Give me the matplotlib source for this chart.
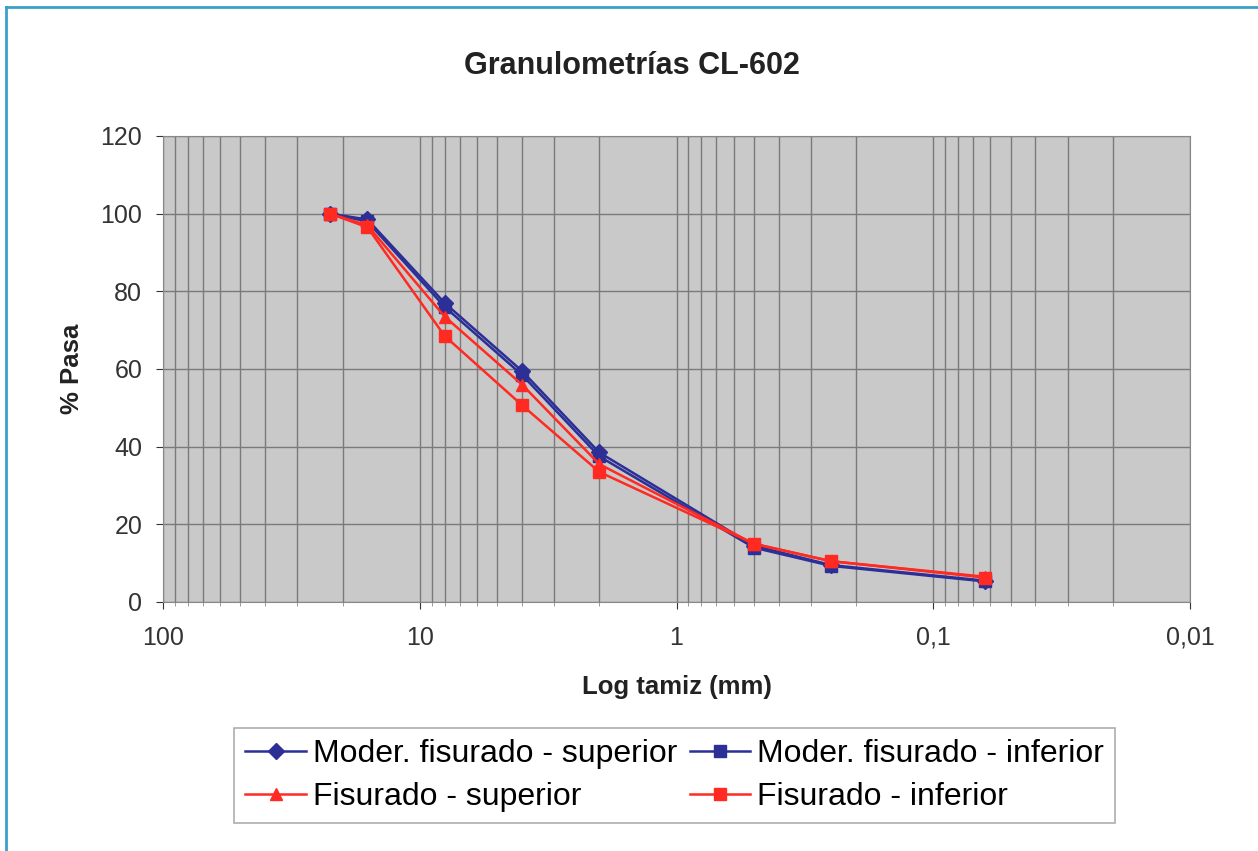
import matplotlib.pyplot as plt
from matplotlib.ticker import FixedLocator, LogLocator, NullFormatter

plt.rcParams['font.family'] = ['Liberation Sans', 'DejaVu Sans']

# tamices (mm) y % que pasa
tamiz = [22.4, 16, 8, 4, 2, 0.5, 0.25, 0.063]
moder_sup = [100, 98.5, 77.0, 59.5, 38.5, 14.5, 9.5, 5.5]
moder_inf = [100, 98.0, 76.0, 58.5, 37.5, 14.0, 9.3, 5.3]
fis_sup = [100, 97.0, 73.5, 56.0, 35.5, 15.0, 10.5, 6.5]
fis_inf = [100, 96.5, 68.5, 50.7, 33.5, 15.0, 10.5, 6.3]

azul = '#2b2f96'
rojo = '#ff2a22'

fig = plt.figure(figsize=(12.58, 8.51), dpi=100)
ax = fig.add_axes([0.1296, 0.2926, 0.8164, 0.5476])
ax.set_facecolor('#c9c9c9')

l1, = ax.plot(tamiz, moder_sup, color=azul, lw=1.8, marker='D', ms=8, label='Moder. fisurado - superior', zorder=3)
l2, = ax.plot(tamiz, moder_inf, color=azul, lw=1.8, marker='s', ms=9, label='Moder. fisurado - inferior', zorder=3)
l3, = ax.plot(tamiz, fis_sup, color=rojo, lw=1.8, marker='^', ms=9, label='Fisurado - superior', zorder=4)
l4, = ax.plot(tamiz, fis_inf, color=rojo, lw=1.8, marker='s', ms=9, label='Fisurado - inferior', zorder=4)

ax.set_xscale('log')
ax.set_xlim(100, 0.01)
ax.set_ylim(0, 120)
ax.set_yticks(range(0, 121, 20))
ax.xaxis.set_major_locator(FixedLocator([100, 10, 1, 0.1, 0.01]))
ax.set_xticklabels(['100', '10', '1', '0,1', '0,01'])
ax.xaxis.set_minor_locator(LogLocator(base=10, subs=range(2, 10)))
ax.xaxis.set_minor_formatter(NullFormatter())

ax.grid(True, which='both', axis='x', color='#7a7a7a', lw=1.0)
ax.grid(True, which='major', axis='y', color='#7a7a7a', lw=1.0)
ax.set_axisbelow(True)

ax.tick_params(axis='both', which='major', labelsize=18, colors='#333333', length=5, pad=10)
ax.tick_params(axis='x', which='major', pad=12)
ax.tick_params(axis='x', which='minor', length=3, colors='#888888')
for s in ax.spines.values():
    s.set_color('#888888')

ax.set_xlabel('Log tamiz (mm)', fontsize=18.5, fontweight='bold', color='#222222', labelpad=18)
ax.set_ylabel('% Pasa', fontsize=18.5, fontweight='bold', color='#222222', labelpad=12)
fig.text(0.502, 0.922, 'Granulometrías CL-602', ha='center', va='center',
         fontsize=22, fontweight='bold', color='#222222')

# orden por filas como en el original
leg = fig.legend([l1, l3, l2, l4], [l1.get_label(), l3.get_label(), l2.get_label(), l4.get_label()],
                 loc='center', bbox_to_anchor=(0.5362, 0.0887), ncol=2, fontsize=23,
                 frameon=True, fancybox=False, handlelength=1.9, handletextpad=0.2,
                 columnspacing=0.4, labelspacing=0.4, borderpad=0.35)
leg.get_frame().set_edgecolor('#999999')
leg.get_frame().set_linewidth(1.2)

# marco de la figura
teal = '#3aa0c8'
fig.add_artist(plt.Line2D([0.0048, 0.0048], [0, 0.9918], color=teal, lw=2, transform=fig.transFigure))
fig.add_artist(plt.Line2D([0.0048, 1], [0.9918, 0.9918], color=teal, lw=2, transform=fig.transFigure))

fig.savefig('out.png', dpi=100)
